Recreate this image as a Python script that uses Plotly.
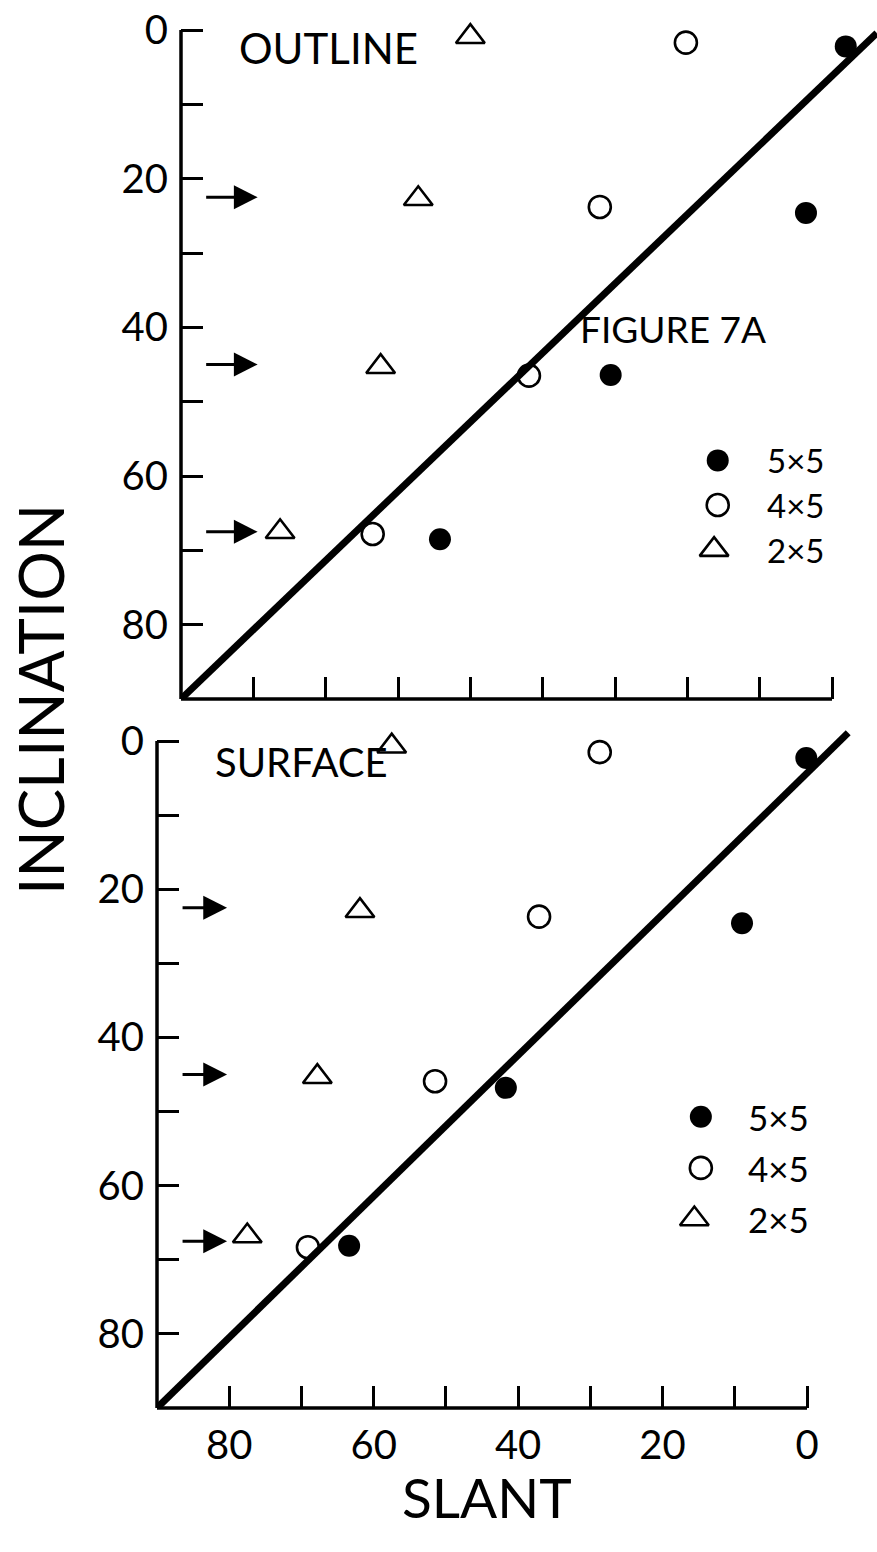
import plotly.graph_objects as go

# ---------------- data ----------------
# OUTLINE panel (top)
outline_5x5_slant = [-1.9, 3.6, 30.6, 54.2]
outline_5x5_incl = [2.2, 24.6, 46.4, 68.5]
outline_4x5_slant = [20.2, 32.1, 41.9, 63.5]
outline_4x5_incl = [1.7, 23.8, 46.5, 67.8]
outline_2x5_slant = [50.0, 57.2, 62.4, 76.3]
outline_2x5_incl = [0.9, 22.7, 45.3, 67.5]
outline_fit_slant = [90, -6.2]
outline_fit_incl = [90, 0.4]

# SURFACE panel (bottom)
surface_5x5_slant = [0.1, 9.0, 41.7, 63.4]
surface_5x5_incl = [2.3, 24.6, 46.8, 68.1]
surface_4x5_slant = [28.7, 37.1, 51.5, 69.1]
surface_4x5_incl = [1.5, 23.7, 45.9, 68.3]
surface_2x5_slant = [57.5, 61.9, 67.8, 77.5]
surface_2x5_incl = [0.7, 22.9, 45.3, 66.8]
surface_fit_slant = [90, -5.7]
surface_fit_incl = [90, -1.1]

# true inclinations marked by arrows
target_incl = [22.5, 45, 67.5]

legend_labels = ["5×5", "4×5", "2×5"]
tick_vals = [0, 10, 20, 30, 40, 50, 60, 70, 80]
tick_text = ["0", "", "20", "", "40", "", "60", "", "80"]

# ---------------- figure ----------------
W, H = 877, 1552
FONT = "Lato"

def px_x(p):
    return p / W

def px_y(p):
    return 1 - p / H

# axis geometry (paper domains and ranges)
X1_DOM, X1_RNG = [px_x(181), 1.0], [90, -6.22]
Y1_DOM, Y1_RNG = [px_y(699), px_y(22.6)], [90, -1]
X2_DOM, X2_RNG = [px_x(157), 1.0], [90, -9.69]
Y2_DOM, Y2_RNG = [px_y(1408), px_y(726.2)], [90, -2]

def to_paper(v, dom, rng):
    return dom[0] + (v - rng[0]) / (rng[1] - rng[0]) * (dom[1] - dom[0])

fig = go.Figure()

filled = dict(symbol="circle", size=22, color="black")
openc = dict(symbol="circle-open", size=22, color="black", line=dict(width=2.6, color="black"))
tri = dict(symbol="triangle-up-open", size=25, color="black", line=dict(width=2.6, color="black"))

def panel(xa, ya, fs, fi, s5, i5, s4, i4, s2, i2):
    fig.add_trace(go.Scatter(x=fs, y=fi, mode="lines", line=dict(color="black", width=7),
                             xaxis=xa, yaxis=ya, showlegend=False, hoverinfo="skip"))
    fig.add_trace(go.Scatter(x=s5, y=i5, mode="markers", marker=filled, name="5×5",
                             xaxis=xa, yaxis=ya, showlegend=False, cliponaxis=False))
    fig.add_trace(go.Scatter(x=s4, y=i4, mode="markers", marker=openc, name="4×5",
                             xaxis=xa, yaxis=ya, showlegend=False, cliponaxis=False))
    fig.add_trace(go.Scatter(x=s2, y=i2, mode="markers", marker=tri, name="2×5",
                             xaxis=xa, yaxis=ya, showlegend=False, cliponaxis=False))

panel("x", "y", outline_fit_slant, outline_fit_incl,
      outline_5x5_slant, outline_5x5_incl, outline_4x5_slant, outline_4x5_incl,
      outline_2x5_slant, outline_2x5_incl)
panel("x2", "y2", surface_fit_slant, surface_fit_incl,
      surface_5x5_slant, surface_5x5_incl, surface_4x5_slant, surface_4x5_incl,
      surface_2x5_slant, surface_2x5_incl)

# key drawn as markers + text inside each panel
key_markers = [filled, openc, tri]
def key(xa, ya, xs, ys, xtext, size):
    for k in range(3):
        fig.add_trace(go.Scatter(x=[xs[k]], y=[ys[k]], mode="markers", marker=key_markers[k],
                                 xaxis=xa, yaxis=ya, showlegend=False, cliponaxis=False,
                                 hoverinfo="skip"))
        fig.add_annotation(x=xtext, y=ys[k], xref=xa, yref=ya, text=legend_labels[k],
                           showarrow=False, xanchor="left", yanchor="middle",
                           font=dict(family=FONT, size=size, color="black"))

key("x", "y", [15.8, 15.8, 16.3], [57.9, 63.9, 69.9], 9.3, 33)
key("x2", "y2", [14.7, 14.7, 15.6], [50.7, 57.6, 64.5], 8.5, 35)

# arrows marking target inclinations
for lvl in target_incl:
    fig.add_annotation(x=79.4, y=lvl, xref="x", yref="y", ax=-53, ay=0, text="",
                       showarrow=True, arrowhead=2, arrowsize=1.7, arrowwidth=2.8,
                       arrowcolor="black", standoff=0)
    fig.add_annotation(x=80.3, y=lvl, xref="x2", yref="y2", ax=-46, ay=0, text="",
                       showarrow=True, arrowhead=2, arrowsize=1.7, arrowwidth=2.8,
                       arrowcolor="black", standoff=0)

# axis lines (bracket style: end at 0), placed in paper coords from the axis mapping
for xd, xr, yd, yr in ((X1_DOM, X1_RNG, Y1_DOM, Y1_RNG), (X2_DOM, X2_RNG, Y2_DOM, Y2_RNG)):
    x90, x0 = to_paper(90, xd, xr), to_paper(0, xd, xr)
    y90, y0 = to_paper(90, yd, yr), to_paper(0, yd, yr)
    fig.add_shape(type="line", xref="paper", yref="paper", x0=x90, y0=y90, x1=x90, y1=y0,
                  line=dict(color="black", width=3.5))
    fig.add_shape(type="line", xref="paper", yref="paper", x0=x90, y0=y90, x1=x0, y1=y90,
                  line=dict(color="black", width=3.5))

tickfont = dict(family=FONT, size=40, color="black")
common_x = dict(showgrid=False, zeroline=False, showline=False, ticks="inside",
                ticklen=22, tickwidth=3, tickcolor="black", tickmode="array",
                tickvals=tick_vals, ticktext=tick_text, tickfont=tickfont, automargin=False)
common_y = dict(showgrid=False, zeroline=False, showline=False, ticks="inside",
                ticklen=22, tickwidth=3, tickcolor="black", tickmode="array",
                tickvals=tick_vals, ticktext=tick_text, tickfont=tickfont,
                ticklabelstandoff=12, automargin=False)

fig.update_layout(
    width=W, height=H,
    margin=dict(l=0, r=0, t=0, b=0, autoexpand=False),
    paper_bgcolor="white", plot_bgcolor="white",
    showlegend=False,
    xaxis=dict(common_x, domain=X1_DOM, range=X1_RNG, anchor="y", showticklabels=False),
    yaxis=dict(common_y, domain=Y1_DOM, range=Y1_RNG, anchor="x"),
    xaxis2=dict(common_x, domain=X2_DOM, range=X2_RNG, anchor="y2",
                showticklabels=True, ticklabelstandoff=10),
    yaxis2=dict(common_y, domain=Y2_DOM, range=Y2_RNG, anchor="x2"),
)

def text(t, x, y, size, xanchor="left", angle=0):
    fig.add_annotation(x=px_x(x), y=px_y(y), xref="paper", yref="paper", text=t,
                       showarrow=False, xanchor=xanchor, yanchor="middle", textangle=angle,
                       font=dict(family=FONT, size=size, color="black"))

text("OUTLINE", 237, 48, 42)
text("FIGURE 7A", 578, 328, 37)
text("SURFACE", 213, 762, 40)
text("INCLINATION", 40, 700, 62, xanchor="center", angle=-90)
text("SLANT", 487, 1497, 55, xanchor="center")

fig.write_html("out.html")
